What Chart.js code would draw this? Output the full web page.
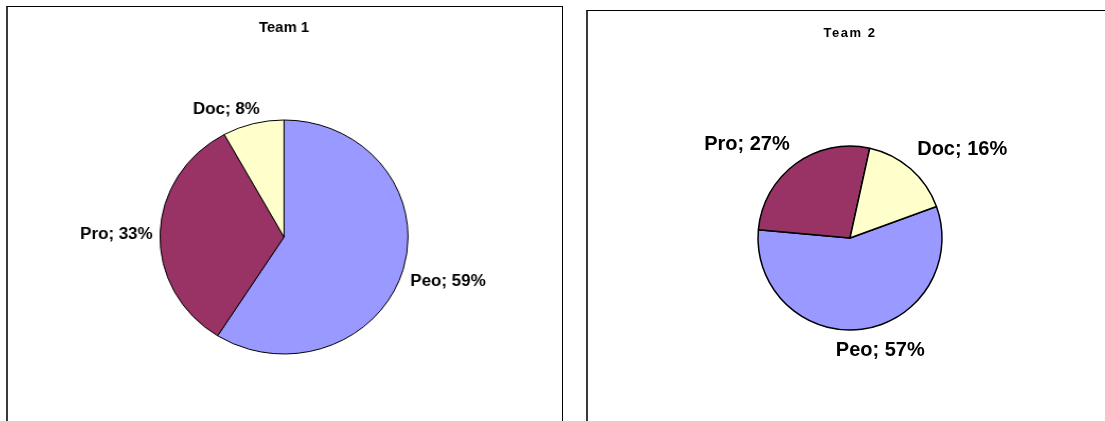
<!DOCTYPE html>
<html>
<head>
<meta charset="utf-8">
<script src="https://cdn.jsdelivr.net/npm/chart.js@4.4.1/dist/chart.umd.min.js"></script>
<style>
  html, body { margin: 0; padding: 0; background: #fff; overflow: hidden; width: 1105px; height: 421px; }
  .panel { position: absolute; box-sizing: content-box; border-top: 1px solid #000; border-left: 2px solid #3a3a3a; border-right: 1px solid #000; background: #fff; }
  #panel1 { left: 6px; top: 6px; width: 554px; height: 430px; }
  #panel2 { left: 586px; top: 10px; width: 540px; height: 430px; border-right: none; }
  .wrap { position: absolute; left: 0; top: 0; transform-origin: 0 0; }
</style>
</head>
<body>
<div class="panel" id="panel1"><div class="wrap" id="wrap1"><canvas id="pie1"></canvas></div></div>
<div class="panel" id="panel2"><div class="wrap" id="wrap2"><canvas id="pie2"></canvas></div></div>
<script>
// data
const categories = ['Peo', 'Pro', 'Doc'];
const team1Values = [59, 33, 8];
const team2Values = [57, 27, 16];
const titles = ['Team 1', 'Team 2'];
const sliceColors = ['#9999FF', '#993366', '#FFFFCC'];

const FONT = 'Arial, "Liberation Sans", Helvetica, sans-serif';

// draws the title and the "Name; xx%" labels outside each slice
const pieText = {
    id: 'pieText',
    afterDatasetsDraw(chart, args, opts) {
        const ctx = chart.ctx;
        const meta = chart.getDatasetMeta(0);
        const data = chart.data.datasets[0].data;
        const total = data.reduce((a, b) => a + b, 0);
        ctx.save();
        ctx.fillStyle = '#000';
        ctx.textAlign = 'center';
        ctx.textBaseline = 'middle';

        ctx.font = `bold ${opts.titleSize}px ${FONT}`;
        ctx.letterSpacing = opts.titleSpacing + 'px';
        ctx.fillText(opts.title, meta.data[0].x, opts.titleY);

        ctx.font = `bold ${opts.labelSize}px ${FONT}`;
        ctx.letterSpacing = '0px';
        const clamp = v => Math.max(-1, Math.min(1, v * 3));
        meta.data.forEach((arc, i) => {
            const mid = (arc.startAngle + arc.endAngle) / 2;
            const dx = Math.cos(mid), dy = Math.sin(mid);
            const r = arc.outerRadius + opts.gap;
            const px = arc.x + dx * r, py = arc.y + dy * r;
            const text = `${chart.data.labels[i]}; ${Math.round(data[i] / total * 100)}%`;
            const w = ctx.measureText(text).width;
            const h = opts.labelSize * 1.15;
            ctx.fillText(text, px + w / 2 * clamp(dx), py + h / 2 * clamp(dy) + opts.nudgeY);
        });
        ctx.restore();
    }
};

function makePie(canvasId, wrapId, values, cfg) {
    const canvas = document.getElementById(canvasId);
    canvas.width = cfg.w;
    canvas.height = cfg.h;
    canvas.style.width = cfg.w + 'px';
    canvas.style.height = cfg.h + 'px';
    document.getElementById(wrapId).style.transform = `scaleX(${cfg.stretch})`;

    const side = 2 * cfg.r + cfg.border;
    return new Chart(canvas.getContext('2d'), {
        type: 'pie',
        data: {
            labels: categories,
            datasets: [{
                data: values,
                backgroundColor: sliceColors,
                borderColor: '#000',
                borderWidth: cfg.border,
                hoverOffset: 0
            }]
        },
        options: {
            responsive: false,
            animation: false,
            rotation: cfg.rotation,
            layout: {
                padding: {
                    left: cfg.cx - side / 2,
                    right: cfg.w - cfg.cx - side / 2,
                    top: cfg.cy - side / 2,
                    bottom: cfg.h - cfg.cy - side / 2
                }
            },
            plugins: {
                legend: { display: false },
                tooltip: { enabled: false },
                title: { display: false },
                pieText: {
                    title: cfg.title, titleSize: cfg.titleSize, titleSpacing: cfg.titleSpacing, titleY: cfg.titleY,
                    labelSize: cfg.labelSize, gap: cfg.gap, nudgeY: cfg.nudgeY
                }
            }
        },
        plugins: [pieText]
    });
}

makePie('pie1', 'wrap1', team1Values, {
    w: 523, h: 414, stretch: 1.06, cx: 260.4, cy: 230, r: 117, border: 1, rotation: 0,
    title: titles[0], titleSize: 14, titleSpacing: 0, titleY: 21, labelSize: 16, gap: 7, nudgeY: 2
});

makePie('pie2', 'wrap2', team2Values, {
    w: 517, h: 410, stretch: 1, cx: 262, cy: 227, r: 92, border: 1.5, rotation: 70,
    title: titles[1], titleSize: 13, titleSpacing: 1.5, titleY: 22, labelSize: 20, gap: 10, nudgeY: 0
});
</script>
</body>
</html>
